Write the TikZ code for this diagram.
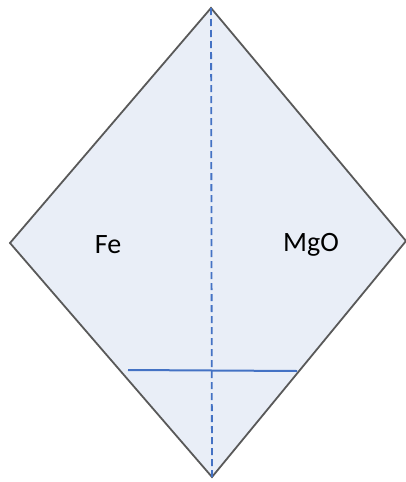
\documentclass[tikz,border=0pt]{standalone}
\usepackage{fontspec}
\setmainfont{Carlito}
\definecolor{cellfill}{RGB}{233,238,247}
\definecolor{edgegray}{RGB}{89,89,89}
\definecolor{lineblue}{RGB}{68,114,196}
\begin{document}
\begin{tikzpicture}[
  x=1pt, y=-1pt,
  cell/.style={draw=edgegray, fill=cellfill, line width=1.8pt, line join=miter},
  phase/.style={font=\fontsize{28}{32}\selectfont, inner sep=0pt},
  axis/.style={draw=lineblue, line width=1.8pt, dash pattern=on 7pt off 4pt},
  level/.style={draw=lineblue, line width=2pt}
]
  \useasboundingbox (0,0) rectangle (406,482);

  \coordinate (top)   at (211,8);
  \coordinate (left)  at (10,243);
  \coordinate (right) at (406,241);
  \coordinate (bot)   at (212,477);

  \draw[cell] (top) -- (right) -- (bot) -- (left) -- cycle;

  \node[phase] (fe)  at (108,245) {Fe};
  \node[phase] (mgo) at (311,245) {MgO};

  \draw[axis] (top) -- (bot);

  \coordinate (l1) at (128,370);
  \coordinate (l2) at (297,371);
  \draw[level] (l1) -- (l2);
\end{tikzpicture}
\end{document}
